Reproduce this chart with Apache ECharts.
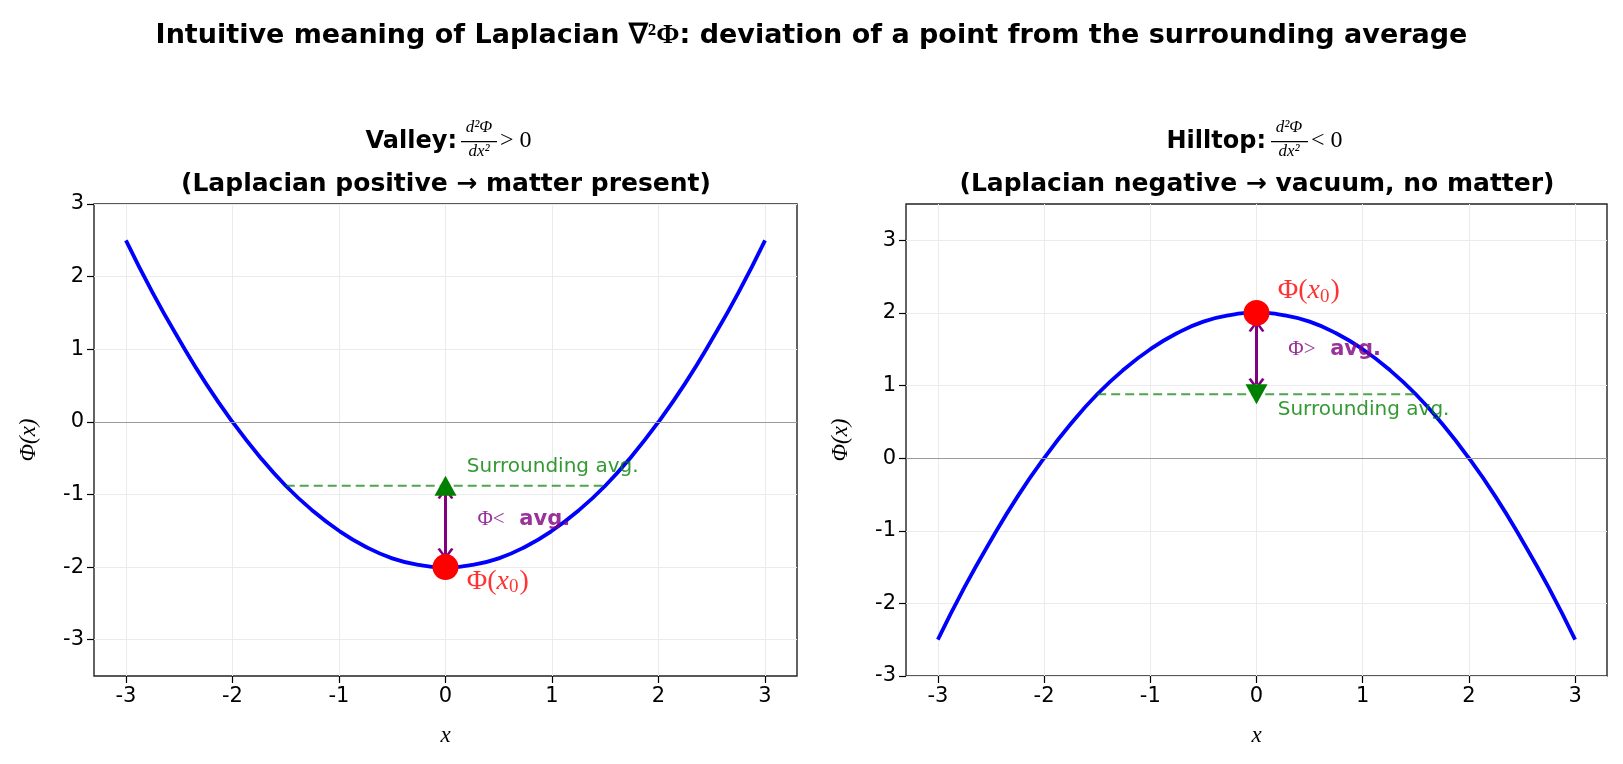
<!DOCTYPE html>
<html>
<head>
<meta charset="utf-8">
<script src="https://cdn.jsdelivr.net/npm/echarts@6/dist/echarts.min.js"></script>
<style>
  html, body { margin: 0; padding: 0; background: #fff; }
  #chart { width: 1623px; height: 764px; }
</style>
</head>
<body>
<div id="chart"></div>
<script>
// curve samples
var xs = [-3, -2.75, -2.5, -2.25, -2, -1.75, -1.5, -1.25, -1, -0.75, -0.5, -0.25, 0,
          0.25, 0.5, 0.75, 1, 1.25, 1.5, 1.75, 2, 2.25, 2.5, 2.75, 3];
var valleyY = [2.5, 1.78, 1.13, 0.53, 0, -0.47, -0.88, -1.22, -1.5, -1.72, -1.88, -1.97, -2,
               -1.97, -1.88, -1.72, -1.5, -1.22, -0.88, -0.47, 0, 0.53, 1.13, 1.78, 2.5];
var hillY = [-2.5, -1.78, -1.13, -0.53, 0, 0.47, 0.88, 1.22, 1.5, 1.72, 1.88, 1.97, 2,
             1.97, 1.88, 1.72, 1.5, 1.22, 0.88, 0.47, 0, -0.53, -1.13, -1.78, -2.5];
var avgSpan = [-1.5, 1.5];
var valleyAvg = -0.88;
var hillAvg = 0.88;
var valleyPoint = [0, -2];
var hillPoint = [0, 2];
var valleyArrow = [-1.82, -0.98];
var hillArrow = [1.82, 1.02];
var tickVals = [-3, -2, -1, 0, 1, 2, 3];

function zip(a, b) {
    var out = [];
    for (var i = 0; i < a.length; i++) out.push([a[i], b[i]]);
    return out;
}

var chart = echarts.init(document.getElementById('chart'));
var SANS = 'DejaVu Sans';
var SERIF = 'Liberation Serif';
var chevron = 'path://M0,10 L5,0 L10,10 L8.5,11 L5,4 L1.5,11 Z';

function xAxisFor(idx) {
    return {
        gridIndex: idx, type: 'value', min: -3.3, max: 3.3,
        name: 'x', nameLocation: 'middle', nameGap: 48,
        nameTextStyle: { fontFamily: SERIF, fontStyle: 'italic', fontSize: 23, color: '#000' },
        axisLine: { show: false, onZero: false },
        axisTick: { show: true, inside: false, length: 7, customValues: tickVals, lineStyle: { color: '#000', width: 1.2 } },
        axisLabel: { customValues: tickVals, fontFamily: SANS, fontSize: 21, color: '#000', margin: 10 },
        splitLine: { show: true, lineStyle: { color: '#ebebeb', width: 1 } }
    };
}
function yAxisFor(idx, min, max) {
    return {
        gridIndex: idx, type: 'value', min: min, max: max,
        name: 'Φ(x)', nameLocation: 'middle', nameGap: 54, nameRotate: 90,
        nameTextStyle: { fontFamily: SERIF, fontStyle: 'italic', fontSize: 23, color: '#000' },
        axisLine: { show: false, onZero: false },
        axisTick: { show: true, inside: false, length: 7, customValues: tickVals, lineStyle: { color: '#000', width: 1.2 } },
        axisLabel: { customValues: tickVals, fontFamily: SANS, fontSize: 21, color: '#000', margin: 10 },
        splitLine: { show: true, lineStyle: { color: '#ebebeb', width: 1 } }
    };
}

function textAt(idx, pos, rich, fmt) {
    return {
        type: 'scatter', xAxisIndex: idx, yAxisIndex: idx, data: [pos], symbolSize: 0, z: 6,
        silent: true,
        label: { show: true, position: 'right', distance: 0, formatter: fmt, rich: rich }
    };
}

var phiRich = {
    n: { fontFamily: SERIF, fontSize: 28, color: '#ff0000' },
    i: { fontFamily: SERIF, fontStyle: 'italic', fontSize: 28, color: '#ff0000' },
    s: { fontFamily: SERIF, fontSize: 19, color: '#ff0000', padding: [11, 1, 0, 0] }
};
var avgRich = { t: { fontFamily: SANS, fontSize: 20, color: '#008000' } };
var cmpRich = {
    m: { fontFamily: SERIF, fontSize: 21, color: '#800080' },
    b: { fontFamily: SANS, fontWeight: 'bold', fontSize: 21, color: '#800080' }
};

function panelSeries(idx, ys, pt, avg, arrow, triRot, phiPos, cmpPos, cmpText, avgPos) {
    return [
        {
            type: 'line', xAxisIndex: idx, yAxisIndex: idx, data: zip(xs, ys), smooth: true,
            showSymbol: false, lineStyle: { color: '#0000ff', width: 3.8 }, z: 3,
            markLine: {
                silent: true, symbol: 'none', animation: false, label: { show: false },
                lineStyle: { color: '#9a9a9a', width: 1, type: 'solid' },
                data: [{ yAxis: 0 }]
            }
        },
        {
            type: 'line', xAxisIndex: idx, yAxisIndex: idx,
            data: [[avgSpan[0], avg], [avgSpan[1], avg]], showSymbol: false, z: 3,
            lineStyle: { color: 'rgba(0,128,0,0.7)', width: 2.2, type: [9, 5] }
        },
        {
            type: 'scatter', xAxisIndex: idx, yAxisIndex: idx, data: [pt], z: 5,
            symbol: 'circle', symbolSize: 26, itemStyle: { color: '#ff0000', opacity: 1 }
        },
        {
            type: 'scatter', xAxisIndex: idx, yAxisIndex: idx, data: [[pt[0], avg]], z: 5,
            symbol: 'triangle', symbolSize: [22, 20], symbolRotate: triRot,
            itemStyle: { color: '#008000', opacity: 1 },
            markLine: {
                silent: true, animation: false, label: { show: false },
                symbol: [chevron, chevron], symbolSize: [16, 12],
                lineStyle: { color: '#800080', width: 3, type: 'solid' },
                itemStyle: { color: '#800080' },
                data: [[{ coord: [0, arrow[0]] }, { coord: [0, arrow[1]] }]]
            }
        },
        textAt(idx, phiPos, phiRich, '{n|Φ(}{i|x}{s|0}{n|)}'),
        textAt(idx, cmpPos, cmpRich, '{m|' + cmpText + '}{b|  avg.}'),
        textAt(idx, avgPos, avgRich, '{t|Surrounding avg.}')
    ];
}

function titleBlock(word, rel, cx, wordRight, fracCx, fracL, fracR, line2) {
    return [
        { type: 'text', x: wordRight, y: 130, style: { text: word, font: 'bold 24px "DejaVu Sans"', fill: '#000', align: 'right' }, z: 10 },
        { type: 'text', x: fracCx, y: 119, style: { text: 'd²Φ', font: 'italic 17px "Liberation Serif"', fill: '#000', align: 'center' }, z: 10 },
        { type: 'rect', shape: { x: fracL, y: 141, width: fracR - fracL, height: 1.2 }, style: { fill: '#000' }, z: 10 },
        { type: 'text', x: fracCx, y: 143, style: { text: 'dx²', font: 'italic 17px "Liberation Serif"', fill: '#000', align: 'center' }, z: 10 },
        { type: 'text', x: fracR + 3, y: 129, style: { text: rel, font: '24px "Liberation Serif"', fill: '#000', align: 'left' }, z: 10 },
        { type: 'text', x: cx, y: 172, style: { text: line2, font: 'bold 25px "DejaVu Sans"', fill: '#000', align: 'center' }, z: 10 }
    ];
}

var graphics = [].concat(
    titleBlock('Valley:', '> 0', 446, 457, 479, 461, 497, '(Laplacian positive → matter present)'),
    titleBlock('Hilltop:', '< 0', 1257, 1266, 1289, 1271, 1308, '(Laplacian negative → vacuum, no matter)')
);

var option = {
    backgroundColor: '#fff',
    animation: false,
    title: {
        left: 'center', top: 17,
        text: '{b|Intuitive meaning of Laplacian }{m|∇²Φ}{b|: deviation of a point from the surrounding average}',
        textStyle: {
            rich: {
                b: { fontFamily: SANS, fontWeight: 'bold', fontSize: 27, color: '#000' },
                m: { fontFamily: SERIF, fontSize: 28, color: '#000' }
            }
        }
    },
    grid: [
        { left: 94, top: 204, width: 703, height: 472, show: true, borderColor: '#222', borderWidth: 1.4, backgroundColor: 'transparent' },
        { left: 906, top: 204, width: 701, height: 472, show: true, borderColor: '#222', borderWidth: 1.4, backgroundColor: 'transparent' }
    ],
    xAxis: [xAxisFor(0), xAxisFor(1)],
    yAxis: [yAxisFor(0, -3.5, 3), yAxisFor(1, -3, 3.5)],
    graphic: graphics,
    series: [].concat(
        panelSeries(0, valleyY, valleyPoint, valleyAvg, valleyArrow, 0,
            [0.2, -2.2], [0.3, -1.35], 'Φ<', [0.2, -0.62]),
        panelSeries(1, hillY, hillPoint, hillAvg, hillArrow, 180,
            [0.2, 2.3], [0.3, 1.5], 'Φ>', [0.2, 0.67])
    )
};
chart.setOption(option);
</script>
</body>
</html>
